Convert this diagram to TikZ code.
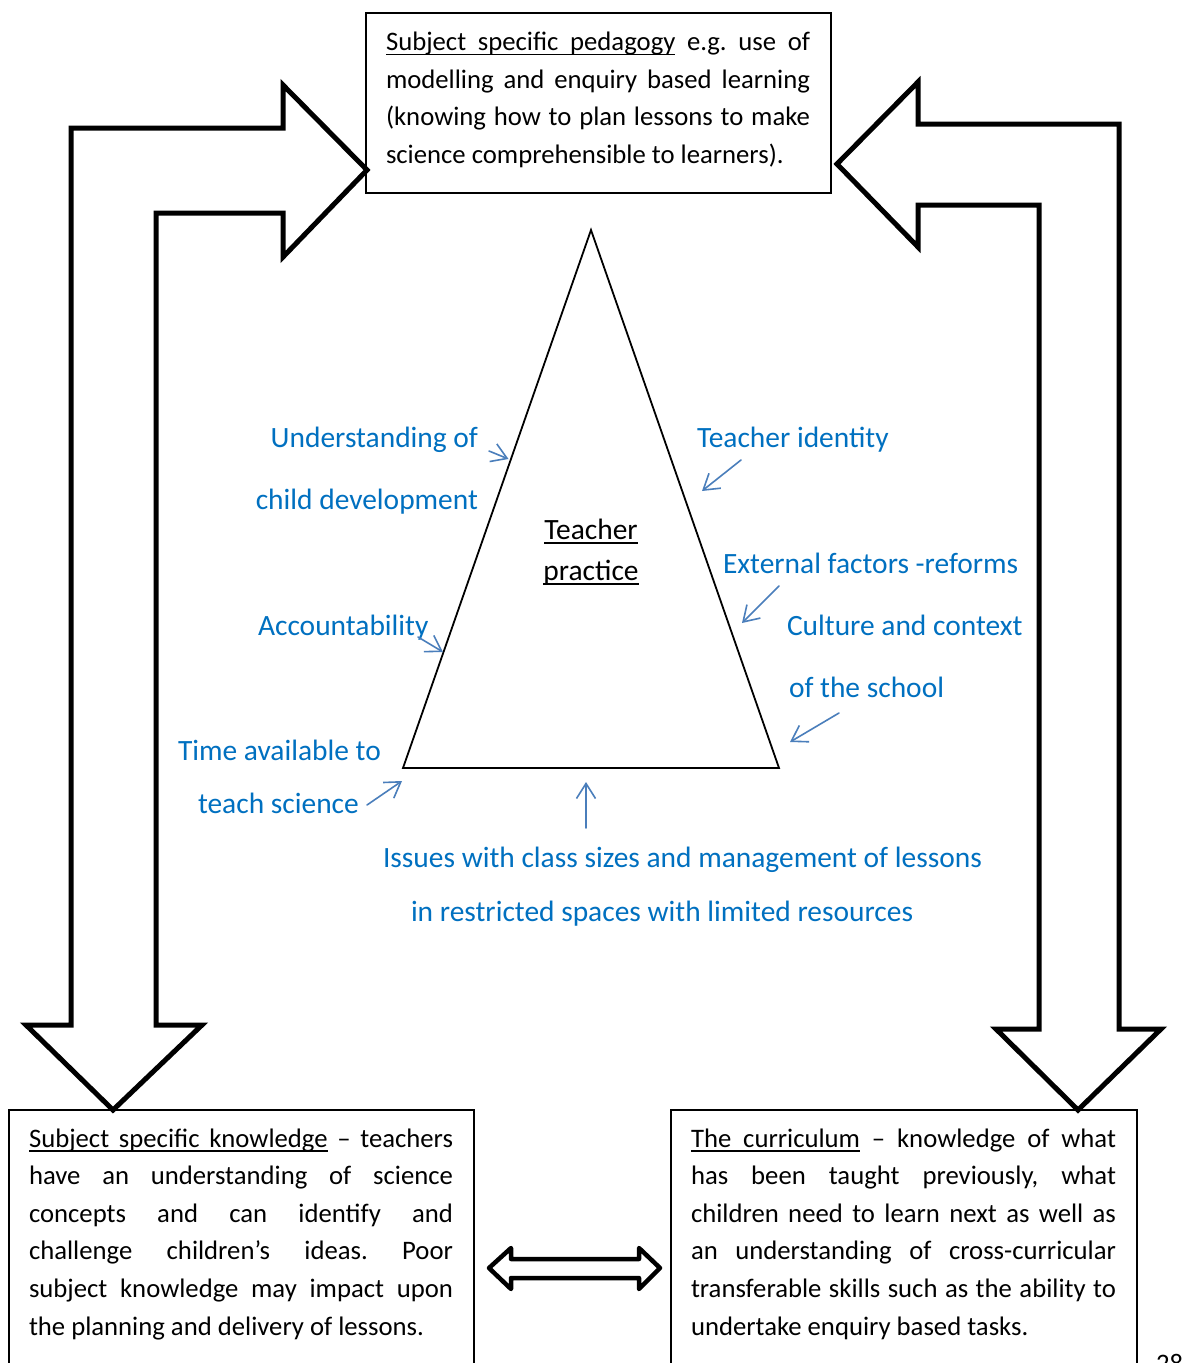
\documentclass[tikz,border=0pt]{standalone}
\usepackage{fontspec}
\setmainfont{Carlito}
\usetikzlibrary{arrows.meta}
\definecolor{lblue}{HTML}{0070C0}
\definecolor{pblue}{RGB}{74,126,187}
\newsavebox{\myubox}
\newcommand{\uw}[1]{\sbox{\myubox}{#1}\rlap{\rule[-4.5pt]{\wd\myubox}{1.3pt}}\usebox{\myubox}}
\newcommand{\usp}{\leaders\hrule height -3.2pt depth 4.5pt\hskip\fontdimen2\font plus 1fil\relax}
\newcommand{\jl}[2]{\makebox[#1][s]{\spaceskip=\fontdimen2\font plus 1fil\relax\xspaceskip=\spaceskip #2}}
\newcommand{\natsp}{\frenchspacing\spaceskip=0pt\xspaceskip=0pt\relax}
\tikzset{
  bigarrow/.style={draw=black, line width=5pt, fill=white, line join=miter, miter limit=10},
  dblarrow/.style={draw=black, line width=4.5pt, fill=white, line join=round},
  boxframe/.style={draw=black, line width=1.6pt, rectangle, inner sep=0pt, outer sep=0pt, anchor=north west},
  boxtext/.style={anchor=north west, inner sep=0pt, outer sep=0pt, align=left, font=\fontsize{26.7pt}{37.6pt}\selectfont},
  lbl/.style={text=lblue, inner sep=0pt, outer sep=0pt, font=\fontsize{29.45pt}{35pt}\selectfont},
  tplbl/.style={text=black, inner sep=0pt, outer sep=0pt, anchor=base, font=\fontsize{29.45pt}{35pt}\selectfont},
  pointer/.style={draw=pblue, line width=1.6pt, line cap=round, -{Straight Barb[length=15pt,width=19pt]}},
  tri/.style={draw=black, line width=1.8pt, line join=miter}
}
\begin{document}
\begin{tikzpicture}[x=1pt,y=-1pt]
\useasboundingbox (0,0) rectangle (1184,1363);
\clip (0,0) rectangle (1184,1363);
\fill[white] (0,0) rectangle (1184,1363);

% big L-shaped block arrows
\draw[bigarrow] (113,1110) -- (202,1025) -- (156,1025) -- (156,213) -- (283,213) -- (283,257)
  -- (367,170) -- (283,85) -- (283,128) -- (71,128) -- (71,1025) -- (26,1025) -- cycle;
\draw[bigarrow] (1078,1110) -- (996,1029) -- (1039,1029) -- (1039,205) -- (918,205) -- (918,247)
  -- (837,164) -- (918,82) -- (918,124) -- (1119,124) -- (1119,1029) -- (1161,1029) -- cycle;

% double arrow between the lower boxes
\draw[dblarrow] (489,1268) -- (511,1248) -- (511,1259) -- (639,1259) -- (639,1248) -- (660,1268)
  -- (639,1289) -- (639,1278) -- (511,1278) -- (511,1289) -- cycle;

% boxes
\node[boxframe, minimum width=465pt, minimum height=180pt] (ped) at (366,13) {};
\node[boxframe, minimum width=465pt, minimum height=275pt] (skn) at (9,1110) {};
\node[boxframe, minimum width=466pt, minimum height=275pt] (cur) at (671,1110) {};

\node[boxtext, text width=424pt] (pedtext) at (386,26.6) {\natsp\noindent\rule{0pt}{24pt}\jl{424pt}{\uw{Subject}\usp\uw{specific}\usp\uw{pedagogy} e.g. use of}\\
\jl{424pt}{modelling and enquiry based learning}\\
\jl{424pt}{(knowing how to plan lessons to make}\\
science comprehensible to learners).};

\node[boxtext, text width=424pt] (skntext) at (29,1123) {\natsp\noindent\rule{0pt}{24pt}\jl{424pt}{\uw{Subject}\usp\uw{specific}\usp\uw{knowledge} – teachers}\\
\jl{424pt}{have an understanding of science}\\
\jl{424pt}{concepts and can identify and}\\
\jl{424pt}{challenge children’s ideas. Poor}\\
\jl{424pt}{subject knowledge may impact upon}\\
the planning and delivery of lessons.};

\node[boxtext, text width=425pt] (curtext) at (691,1123) {\natsp\noindent\rule{0pt}{24pt}\jl{425pt}{\uw{The}\usp\uw{curriculum} – knowledge of what}\\
\jl{425pt}{has been taught previously, what}\\
\jl{425pt}{children need to learn next as well as}\\
\jl{425pt}{an understanding of cross-curricular}\\
\jl{425pt}{transferable skills such as the ability to}\\
undertake enquiry based tasks.};

\node[boxtext, anchor=base west] (pagenum) at (1156,1372) {28};

% triangle
\coordinate (apex) at (591,230);
\coordinate (tbl) at (403,768);
\coordinate (tbr) at (779,768);
\draw[tri] (apex) -- (tbl) -- (tbr) -- cycle;

\node[tplbl] (tp1) at (591,539) {\uw{Teacher}};
\node[tplbl] (tp2) at (591,580) {\uw{practice}};

% labels
\node[lbl, anchor=base east] (ucd1) at (478,447) {Understanding of};
\node[lbl, anchor=base east] (ucd2) at (478,509) {child development};
\node[lbl, anchor=base west] (acc) at (258,635) {Accountability};
\node[lbl, anchor=base west] (time1) at (178,760) {Time available to};
\node[lbl, anchor=base west] (time2) at (198,813) {teach science};
\node[lbl, anchor=base west] (tid) at (697,447) {Teacher identity};
\node[lbl, anchor=base west] (ext) at (723,573) {External factors -reforms};
\node[lbl, anchor=base west] (cul1) at (787,635) {Culture and context};
\node[lbl, anchor=base west] (cul2) at (789,697) {of the school};
\node[lbl, anchor=base west] (iss1) at (383,867) {Issues with class sizes and management of lessons};
\node[lbl, anchor=base west] (iss2) at (411,921) {in restricted spaces with limited resources};

% pointer arrows
\coordinate (a1s) at (489,451);  \coordinate (a1e) at (508.5,459);
\coordinate (a2s) at (418,637);  \coordinate (a2e) at (443,652);
\coordinate (a3s) at (367,805);  \coordinate (a3e) at (402,781);
\coordinate (a4s) at (741,460);  \coordinate (a4e) at (702,491);
\coordinate (a5s) at (779,586);  \coordinate (a5e) at (742,623);
\coordinate (a6s) at (839,713);  \coordinate (a6e) at (790,742);
\coordinate (a7s) at (586,828);  \coordinate (a7e) at (586,782);
\draw[pointer] (a1s) -- (a1e);
\draw[pointer] (a2s) -- (a2e);
\draw[pointer] (a3s) -- (a3e);
\draw[pointer] (a4s) -- (a4e);
\draw[pointer] (a5s) -- (a5e);
\draw[pointer] (a6s) -- (a6e);
\draw[pointer] (a7s) -- (a7e);
\end{tikzpicture}
\end{document}
